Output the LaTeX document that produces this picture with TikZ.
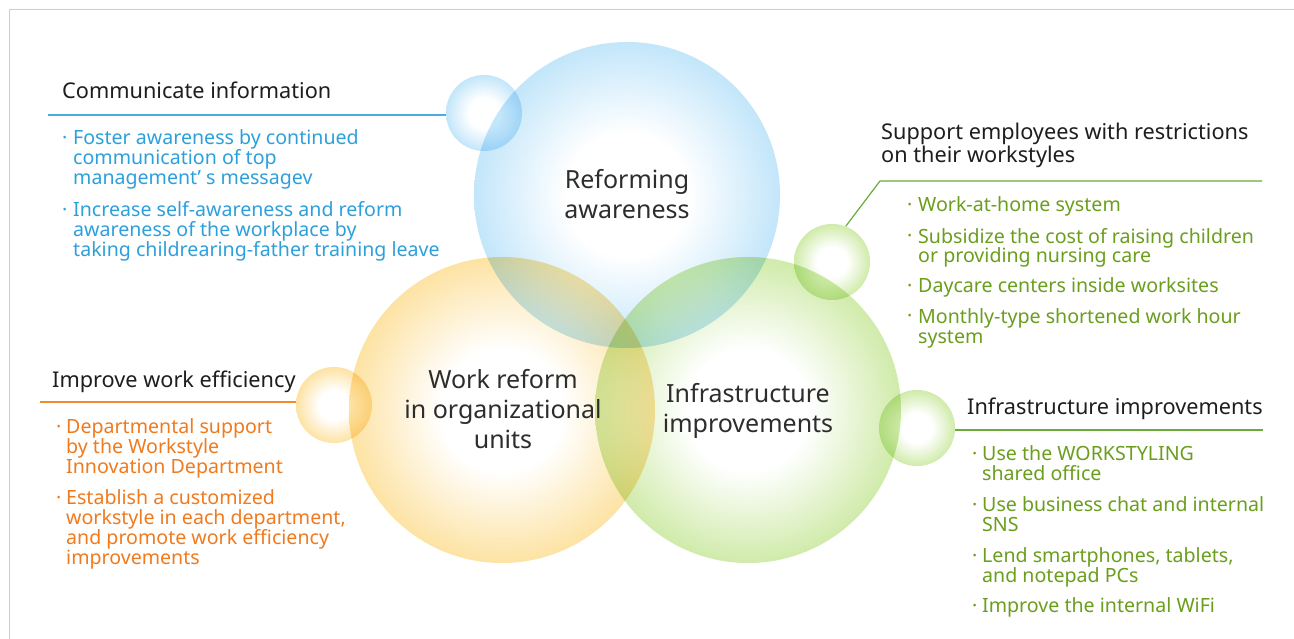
\documentclass[tikz,border=0pt]{standalone}
\usepackage{fontspec}
\setmainfont{Noto Sans}
\definecolor{cblue}{RGB}{108,194,243}
\definecolor{corange}{RGB}{250,186,32}
\definecolor{cgreen}{RGB}{140,206,48}
\colorlet{cbluem}{cblue!55}
\colorlet{corangem}{corange!55}
\colorlet{cgreenm}{cgreen!55}
\colorlet{cbluen}{cblue!92}
\colorlet{corangen}{corange!92}
\colorlet{cgreenn}{cgreen!92}
\definecolor{tblue}{RGB}{45,160,220}
\definecolor{torange}{RGB}{240,122,30}
\definecolor{tgreen}{RGB}{106,158,28}
\definecolor{lblue}{RGB}{75,172,225}
\definecolor{lorange}{RGB}{242,138,48}
\definecolor{lgreen}{RGB}{106,170,58}
\definecolor{headc}{RGB}{30,30,30}
\definecolor{labc}{RGB}{45,45,45}
\definecolor{framec}{RGB}{205,205,205}
\pgfdeclareradialshading{shblue}{\pgfpoint{0bp}{0bp}}{color(0bp)=(white); color(10bp)=(white); color(30bp)=(cbluem); color(42bp)=(cbluen); color(50bp)=(cblue)}
\pgfdeclareradialshading{shorange}{\pgfpoint{0bp}{0bp}}{color(0bp)=(white); color(10bp)=(white); color(30bp)=(corangem); color(42bp)=(corangen); color(50bp)=(corange)}
\pgfdeclareradialshading{shgreen}{\pgfpoint{0bp}{0bp}}{color(0bp)=(white); color(10bp)=(white); color(30bp)=(cgreenm); color(42bp)=(cgreenn); color(50bp)=(cgreen)}
\tikzset{
  bigc/.style={circle, inner sep=0pt, minimum size=306pt},
  smallc/.style={circle, inner sep=0pt, minimum size=76pt},
  head/.style={anchor=base west, inner sep=0pt, text=headc, align=left, font=\fontsize{21.7}{23}\selectfont},
  item/.style={anchor=base west, inner sep=0pt, align=left, font=\fontsize{19.6}{20}\selectfont},
  bdot/.style={anchor=base west, inner sep=0pt, font=\fontsize{19.6}{20}\selectfont},
  clabel/.style={anchor=base, inner sep=0pt, align=center, text=labc, font=\fontsize{25}{30}\selectfont},
  conn/.style={line width=1.2pt}
}
\begin{document}
\begin{tikzpicture}[x=1pt,y=-1pt]
\useasboundingbox (0,0) rectangle (1294,639);
\fill[white] (0,0) rectangle (1294,639);
\draw[framec, line width=1pt] (9,639) -- (9,10) -- (1294,10);

% circles
\begin{scope}[blend mode=multiply]
\node[bigc, shading=shblue] (cb) at (627,195) {};
\node[bigc, shading=shorange] (co) at (502,410) {};
\node[bigc, shading=shgreen] (cg) at (748,410) {};
\node[smallc, shading=shblue] (sb) at (484,113) {};
\node[smallc, shading=shorange] (so) at (334,405) {};
\node[smallc, shading=shgreen] (sg1) at (832,262) {};
\node[smallc, shading=shgreen] (sg2) at (917,428) {};
\end{scope}

% circle labels (anchor = baseline of last line)
\node[clabel] (lb) at (627,219) {Reforming\\awareness};
\node[clabel] (lo) at (503,448) {Work reform\\in organizational\\units};
\node[clabel] (lg) at (748,432) {Infrastructure\\improvements};

% connectors
\coordinate (eb) at (48,115);
\coordinate (eo) at (40,402);
\coordinate (eg1) at (1262,181);
\coordinate (kg1) at (880,181);
\coordinate (eg2) at (1263,430);
\draw[conn, lblue] (eb) -- (eb -| sb.west);
\draw[conn, lorange] (eo) -- (eo -| so.west);
\draw[conn, lgreen] (eg1) -- (kg1) -- (sg1.69);
\draw[conn, lgreen] (eg2 -| sg2.east) -- (eg2);

% blue group
\node[head] (hb) at (62,99) {Communicate information};
\node[bdot, text=tblue] (db1) at (62,145) {·};
\node[item, text=tblue] (ib1) at (73,185) {Foster awareness by continued\\communication of top\\management’ s messagev};
\node[bdot, text=tblue] (db2) at (62,217) {·};
\node[item, text=tblue] (ib2) at (73,257) {Increase self-awareness and reform\\awareness of the workplace by\\taking childrearing-father training leave};

% orange group
\node[head] (ho) at (52,387) {Improve work efficiency};
\node[bdot, text=torange] (do1) at (56,433) {·};
\node[item, text=torange] (io1) at (66,473) {Departmental support\\by the Workstyle\\Innovation Department};
\node[bdot, text=torange] (do2) at (56,504) {·};
\node[item, text=torange] (io2) at (66,564) {Establish a customized\\workstyle in each department,\\and promote work efficiency\\improvements};

% green group 1
\node[head] (hg1) at (881,163) {Support employees with restrictions\\on their workstyles};
\node[bdot, text=tgreen] (dg1) at (907,212) {·};
\node[item, text=tgreen] (ig1) at (918,212) {Work-at-home system};
\node[bdot, text=tgreen] (dg2) at (907,243) {·};
\node[item, text=tgreen] (ig2) at (918,263) {Subsidize the cost of raising children\\or providing nursing care};
\node[bdot, text=tgreen] (dg3) at (907,293) {·};
\node[item, text=tgreen] (ig3) at (918,293) {Daycare centers inside worksites};
\node[bdot, text=tgreen] (dg4) at (907,323) {·};
\node[item, text=tgreen] (ig4) at (918,343) {Monthly-type shortened work hour\\system};

% green group 2
\node[head] (hg2) at (967,414) {Infrastructure improvements};
\node[bdot, text=tgreen] (dh1) at (972,460) {·};
\node[item, text=tgreen] (ih1) at (982,480) {Use the WORKSTYLING\\shared office};
\node[bdot, text=tgreen] (dh2) at (972,511) {·};
\node[item, text=tgreen] (ih2) at (982,531) {Use business chat and internal\\SNS};
\node[bdot, text=tgreen] (dh3) at (972,562) {·};
\node[item, text=tgreen] (ih3) at (982,582) {Lend smartphones, tablets,\\and notepad PCs};
\node[bdot, text=tgreen] (dh4) at (972,612) {·};
\node[item, text=tgreen] (ih4) at (982,612) {Improve the internal WiFi};
\end{tikzpicture}
\end{document}
